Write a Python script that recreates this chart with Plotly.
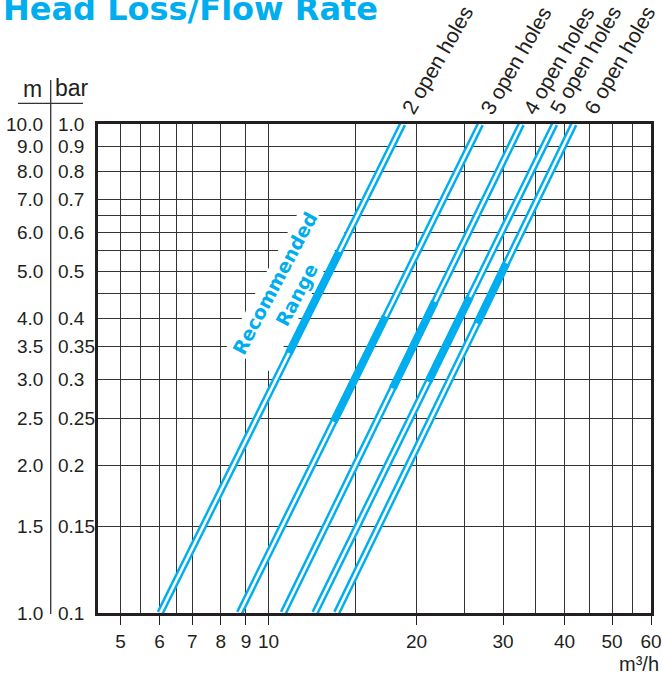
import numpy as np
import plotly.graph_objects as go

# ---------------- data ----------------
hole_labels = ["2 open holes", "3 open holes", "4 open holes", "5 open holes", "6 open holes"]
head_ends = [1.0, 10.0]                       # m, bottom and top of chart
flow_at_1m = [6.02, 8.73, 10.72, 12.43, 13.76]   # m3/h at 1.0 m head
flow_at_10m = [18.75, 26.99, 32.69, 38.21, 41.82]  # m3/h at 10.0 m head

rec_flow_low = [11.00, 13.57, 17.89, 21.14, 26.58]
rec_head_low = [3.40, 2.46, 2.88, 2.97, 3.91]
rec_flow_high = [13.93, 17.31, 21.80, 25.69, 30.47]
rec_head_high = [5.48, 4.04, 4.33, 4.43, 5.19]

x_tick_vals = [5, 6, 7, 8, 9, 10, 20, 30, 40, 50, 60]
x_tick_text = ["5", "6", "7", "8", "9", "10", "20", "30", "40", "50", "60"]
x_minor_grid = [5.5, 6.5, 15, 25, 35, 45, 55]

head_m_ticks = [1.0, 1.5, 2.0, 2.5, 3.0, 3.5, 4.0, 5.0, 6.0, 7.0, 8.0, 9.0, 10.0]
head_m_labels = ["1.0", "1.5", "2.0", "2.5", "3.0", "3.5", "4.0", "5.0", "6.0", "7.0", "8.0", "9.0", "10.0"]
head_bar_labels = ["0.1", "0.15", "0.2", "0.25", "0.3", "0.35", "0.4", "0.5", "0.6", "0.7", "0.8", "0.9", "1.0"]
y_minor_grid = [4.5, 5.5, 6.5]

# ---------------- styling / layout constants ----------------
CYAN = "#00AEEF"
INK = "#231f20"
GRID = "#333333"
W, H = 662, 683
ML, MR, MT, MB = 98, 11, 124, 70
PW = W - ML - MR
PH = H - MT - MB
NUM_FONT = "Liberation Sans, Arial, sans-serif"
BOLD_FONT = "DejaVu Sans, Verdana, sans-serif"


def px_x(p):
    return (p - ML) / PW


def px_y(p):
    return 1 + (MT - p) / PH


label_dx = [34, 35, 37, 30, 45]
label_dy = 64

fig = go.Figure()

for i, name in enumerate(hole_labels):
    xs = [flow_at_1m[i], flow_at_10m[i]]
    fig.add_trace(go.Scatter(x=xs, y=head_ends, mode="lines",
                             line=dict(color=CYAN, width=7.5),
                             hoverinfo="skip", showlegend=False))
    fig.add_trace(go.Scatter(x=xs, y=head_ends, mode="lines",
                             line=dict(color="white", width=2.6),
                             hoverinfo="skip", showlegend=False))
    fig.add_trace(go.Scatter(x=[rec_flow_low[i], rec_flow_high[i]],
                             y=[rec_head_low[i], rec_head_high[i]], mode="lines",
                             line=dict(color=CYAN, width=7.8),
                             name=name + " (recommended)", showlegend=False))

annotations = []

# series labels above the top border
for i, name in enumerate(hole_labels):
    annotations.append(dict(
        x=np.log10(flow_at_10m[i]), xref="x", y=1, yref="paper",
        xshift=label_dx[i], yshift=label_dy, text=name, showarrow=False,
        textangle=-60, xanchor="center", yanchor="middle",
        font=dict(family=NUM_FONT, size=21, color=INK)))

# two-column y labels (m | bar)
for v, lm, lb in zip(head_m_ticks, head_m_labels, head_bar_labels):
    annotations.append(dict(x=px_x(45), xref="paper", y=np.log10(v), yref="y",
                            text=lm, showarrow=False, xanchor="right", yanchor="middle",
                            font=dict(family=NUM_FONT, size=19, color=INK)))
    annotations.append(dict(x=px_x(56), xref="paper", y=np.log10(v), yref="y",
                            text=lb, showarrow=False, xanchor="left", yanchor="middle",
                            font=dict(family=NUM_FONT, size=19, color=INK)))

annotations.append(dict(x=px_x(44), xref="paper", y=px_y(89), yref="paper", text="m",
                        showarrow=False, xanchor="right", yanchor="middle",
                        font=dict(family=NUM_FONT, size=23, color=INK)))
annotations.append(dict(x=px_x(53), xref="paper", y=px_y(88), yref="paper", text="bar",
                        showarrow=False, xanchor="left", yanchor="middle",
                        font=dict(family=NUM_FONT, size=23, color=INK)))

annotations.append(dict(x=px_x(661), xref="paper", y=px_y(664), yref="paper", text="m³/h",
                        showarrow=False, xanchor="right", yanchor="middle",
                        font=dict(family=NUM_FONT, size=20, color=INK)))

annotations.append(dict(x=px_x(1), xref="paper", y=px_y(9), yref="paper",
                        text="<b>Head Loss/Flow Rate</b>", showarrow=False,
                        xanchor="left", yanchor="middle",
                        font=dict(family=BOLD_FONT, size=32, color=CYAN)))

annotations.append(dict(x=np.log10(10.83), xref="x", y=np.log10(4.59), yref="y",
                        text="<b>Recommended<br>Range</b>", showarrow=False,
                        textangle=-62, align="center", bgcolor="white", borderpad=1,
                        font=dict(family=BOLD_FONT, size=19, color=CYAN)))

shapes = [
    dict(type="line", xref="paper", yref="paper", x0=px_x(18), x1=px_x(83),
         y0=px_y(103.3), y1=px_y(103.3), line=dict(color=GRID, width=1.3)),
    dict(type="line", xref="paper", yref="paper", x0=px_x(50.7), x1=px_x(50.7),
         y0=px_y(80), y1=px_y(614), line=dict(color=GRID, width=1.3)),
]

fig.update_layout(
    width=W, height=H,
    margin=dict(l=ML, r=MR, t=MT, b=MB, autoexpand=False),
    paper_bgcolor="white", plot_bgcolor="white",
    showlegend=False,
    annotations=annotations,
    shapes=shapes,
    xaxis=dict(type="log", range=[np.log10(4.5), np.log10(60)], automargin=False,
               tickmode="array", tickvals=x_tick_vals, ticktext=x_tick_text,
               ticks="outside", ticklen=9, tickwidth=1.4, tickcolor=INK,
               showgrid=True, gridcolor=GRID, gridwidth=1.4,
               minor=dict(tickmode="array", tickvals=x_minor_grid, showgrid=True,
                          gridcolor=GRID, gridwidth=1.4, ticks=""),
               showline=True, linecolor=INK, linewidth=3, mirror=True,
               tickfont=dict(family=NUM_FONT, size=19, color=INK),
               zeroline=False, fixedrange=True),
    yaxis=dict(type="log", range=[0, 1], automargin=False,
               tickmode="array", tickvals=head_m_ticks, showticklabels=False,
               ticks="", showgrid=True, gridcolor=GRID, gridwidth=1.4,
               minor=dict(tickmode="array", tickvals=y_minor_grid, showgrid=True,
                          gridcolor=GRID, gridwidth=1.4, ticks=""),
               showline=True, linecolor=INK, linewidth=3, mirror=True,
               zeroline=False, fixedrange=True),
)

fig.write_html("out.html", config={"displayModeBar": False},
               post_script="document.body.style.margin='0px';"
                           "document.body.style.overflow='hidden';")
